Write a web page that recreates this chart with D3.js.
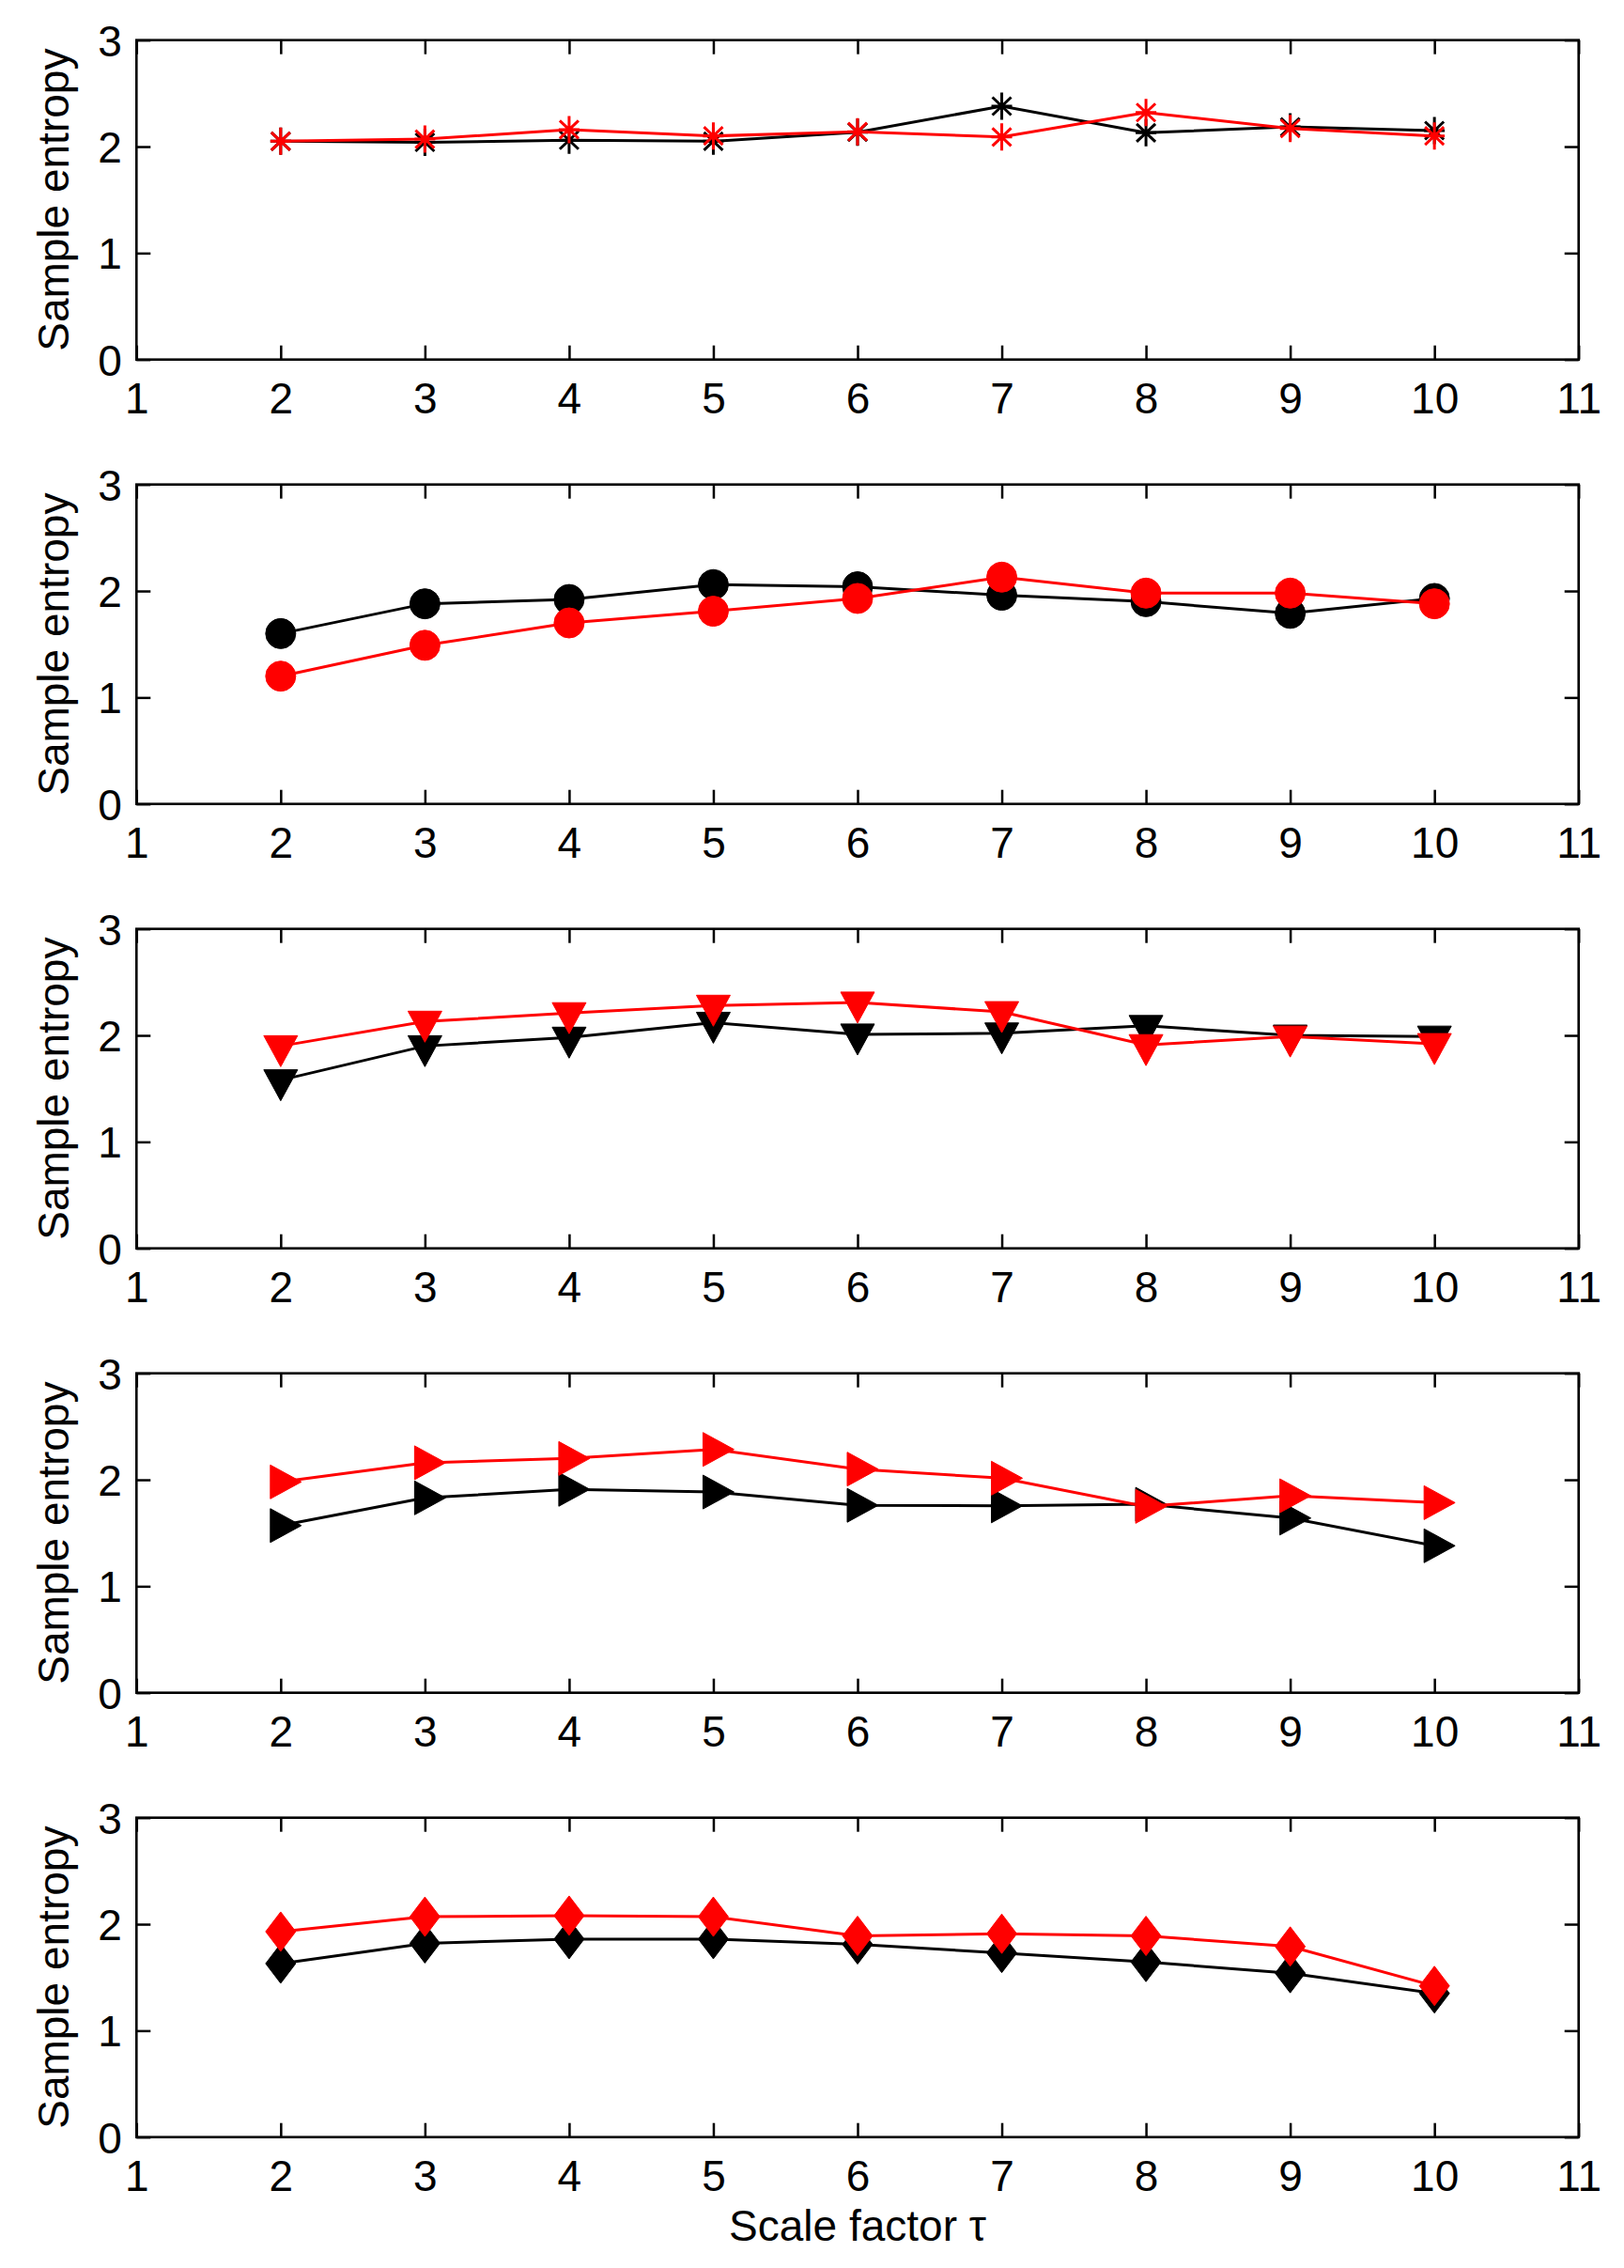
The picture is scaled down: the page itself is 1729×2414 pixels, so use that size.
<!DOCTYPE html>
<html>
<head>
<meta charset="utf-8">
<script src="https://cdn.jsdelivr.net/npm/d3@7/dist/d3.min.js"></script>
<style>
  html, body { margin: 0; padding: 0; background: #fff; }
  svg { display: block; }
  text { font-family: "Liberation Sans", Arial, Helvetica, sans-serif; fill: #000; }
</style>
</head>
<body>
<svg id="chart" width="1729" height="2414"></svg>
<script>
// ---- data ----
const scaleFactors = [2, 3, 4, 5, 6, 7, 8, 9, 10];
const xTickValues = [1, 2, 3, 4, 5, 6, 7, 8, 9, 10, 11];
const yTickValues = [0, 1, 2, 3];

const panel1Black = [2.05, 2.04, 2.06, 2.05, 2.135, 2.38, 2.13, 2.185, 2.15];
const panel1Red   = [2.05, 2.07, 2.16, 2.10, 2.14, 2.09, 2.32, 2.17, 2.10];
const panel2Black = [1.60, 1.88, 1.92, 2.06, 2.04, 1.96, 1.90, 1.79, 1.93];
const panel2Red   = [1.20, 1.49, 1.70, 1.81, 1.93, 2.13, 1.98, 1.98, 1.88];
const panel3Black = [1.58, 1.90, 1.98, 2.12, 2.01, 2.02, 2.09, 2.00, 1.99];
const panel3Red   = [1.90, 2.13, 2.21, 2.28, 2.31, 2.22, 1.91, 1.99, 1.92];
const panel4Black = [1.57, 1.83, 1.91, 1.885, 1.76, 1.755, 1.77, 1.64, 1.38];
const panel4Red   = [1.98, 2.16, 2.20, 2.285, 2.10, 2.015, 1.75, 1.85, 1.785];
const panel5Black = [1.63, 1.82, 1.86, 1.86, 1.81, 1.73, 1.645, 1.54, 1.35];
const panel5Red   = [1.93, 2.07, 2.08, 2.07, 1.89, 1.91, 1.89, 1.79, 1.42];

const panelMarkers = ["asterisk", "circle", "triangleDown", "triangleRight", "diamond"];
const panelSeries = [
  [panel1Black, panel1Red],
  [panel2Black, panel2Red],
  [panel3Black, panel3Red],
  [panel4Black, panel4Red],
  [panel5Black, panel5Red]
];
const seriesColors = ["#000000", "#ff0000"];
const yTitle = "Sample entropy";
const xTitle = "Scale factor τ";

// ---- layout ----
const left = 145.3, right = 1680.7;
const firstTop = 42.7, panelH = 340, panelStep = 473;
const tickLen = 15;
const fontSize = 46;

const svg = d3.select("#chart");
const x = d3.scaleLinear().domain([1, 11]).range([left, right]);
const y = d3.scaleLinear().domain([0, 3]).range([panelH, 0]);

function markerPath(type) {
  const p = d3.path();
  if (type === "circle") {
    p.moveTo(16, 0); p.arc(0, 0, 16, 0, 2 * Math.PI);
  } else if (type === "triangleDown") {
    const w = 36, h = 33;
    p.moveTo(-w / 2, -h / 3); p.lineTo(w / 2, -h / 3); p.lineTo(0, 2 * h / 3); p.closePath();
  } else if (type === "triangleRight") {
    const w = 36, h = 33;
    p.moveTo(-h / 3, -w / 2); p.lineTo(2 * h / 3, 0); p.lineTo(-h / 3, w / 2); p.closePath();
  } else if (type === "diamond") {
    p.moveTo(0, -21); p.lineTo(16, 0); p.lineTo(0, 21); p.lineTo(-16, 0); p.closePath();
  } else if (type === "asterisk") {
    p.moveTo(0, -14.5); p.lineTo(0, 14.5);
    p.moveTo(-11, 0); p.lineTo(11, 0);
    p.moveTo(-10, -9.5); p.lineTo(10, 9.5);
    p.moveTo(-10, 9.5); p.lineTo(10, -9.5);
  }
  return p.toString();
}

panelSeries.forEach((series, i) => {
  const top = firstTop + i * panelStep;
  const g = svg.append("g").attr("transform", `translate(0,${top})`);

  // axes with inward ticks on all four sides
  const bottom = g.append("g").attr("transform", `translate(0,${panelH})`)
    .call(d3.axisBottom(x).tickValues(xTickValues).tickSize(-tickLen).tickFormat(d3.format("d")));
  bottom.selectAll("text").attr("y", 57).attr("dy", 0)
    .style("font-size", fontSize + "px");

  g.append("g")
    .call(d3.axisTop(x).tickValues(xTickValues).tickSize(-tickLen).tickFormat(""));

  const leftAx = g.append("g").attr("transform", `translate(${left},0)`)
    .call(d3.axisLeft(y).tickValues(yTickValues).tickSize(-tickLen).tickFormat(d3.format("d")));
  leftAx.selectAll("text").attr("x", -15.5).attr("dy", "0.36em")
    .style("font-size", fontSize + "px");

  g.append("g").attr("transform", `translate(${right},0)`)
    .call(d3.axisRight(y).tickValues(yTickValues).tickSize(-tickLen).tickFormat(""));

  g.selectAll(".domain").remove();
  g.selectAll(".tick line").attr("stroke", "#000").attr("stroke-width", 2.5);
  g.selectAll(".tick text").attr("fill", "#000").style("font-family", '"Liberation Sans", Arial, sans-serif');

  g.append("rect")
    .attr("x", left).attr("y", 0)
    .attr("width", right - left).attr("height", panelH)
    .attr("fill", "none").attr("stroke", "#000").attr("stroke-width", 2.6);

  // series
  const line = d3.line().x((d, j) => x(scaleFactors[j])).y(d => y(d));
  const mType = panelMarkers[i];
  const mPath = markerPath(mType);
  series.forEach((vals, s) => {
    const col = seriesColors[s];
    const sg = g.append("g");
    sg.append("path").datum(vals)
      .attr("d", line)
      .attr("fill", "none").attr("stroke", col).attr("stroke-width", 3)
      .attr("stroke-linejoin", "miter");
    sg.selectAll("path.marker").data(vals).enter().append("path")
      .attr("class", "marker")
      .attr("transform", (d, j) => `translate(${x(scaleFactors[j])},${y(d)})`)
      .attr("d", mPath)
      .attr("fill", mType === "asterisk" ? "none" : col)
      .attr("stroke", col)
      .attr("stroke-width", mType === "asterisk" ? 3 : 1);
  });

  // y title
  g.append("text")
    .attr("transform", `translate(73,${panelH / 2}) rotate(-90)`)
    .attr("text-anchor", "middle")
    .style("font-size", fontSize + "px")
    .text(yTitle);
});

// x title
svg.append("text")
  .attr("x", (left + right) / 2)
  .attr("y", 2385)
  .attr("text-anchor", "middle")
  .style("font-size", fontSize + "px")
  .text(xTitle);
</script>
</body>
</html>
